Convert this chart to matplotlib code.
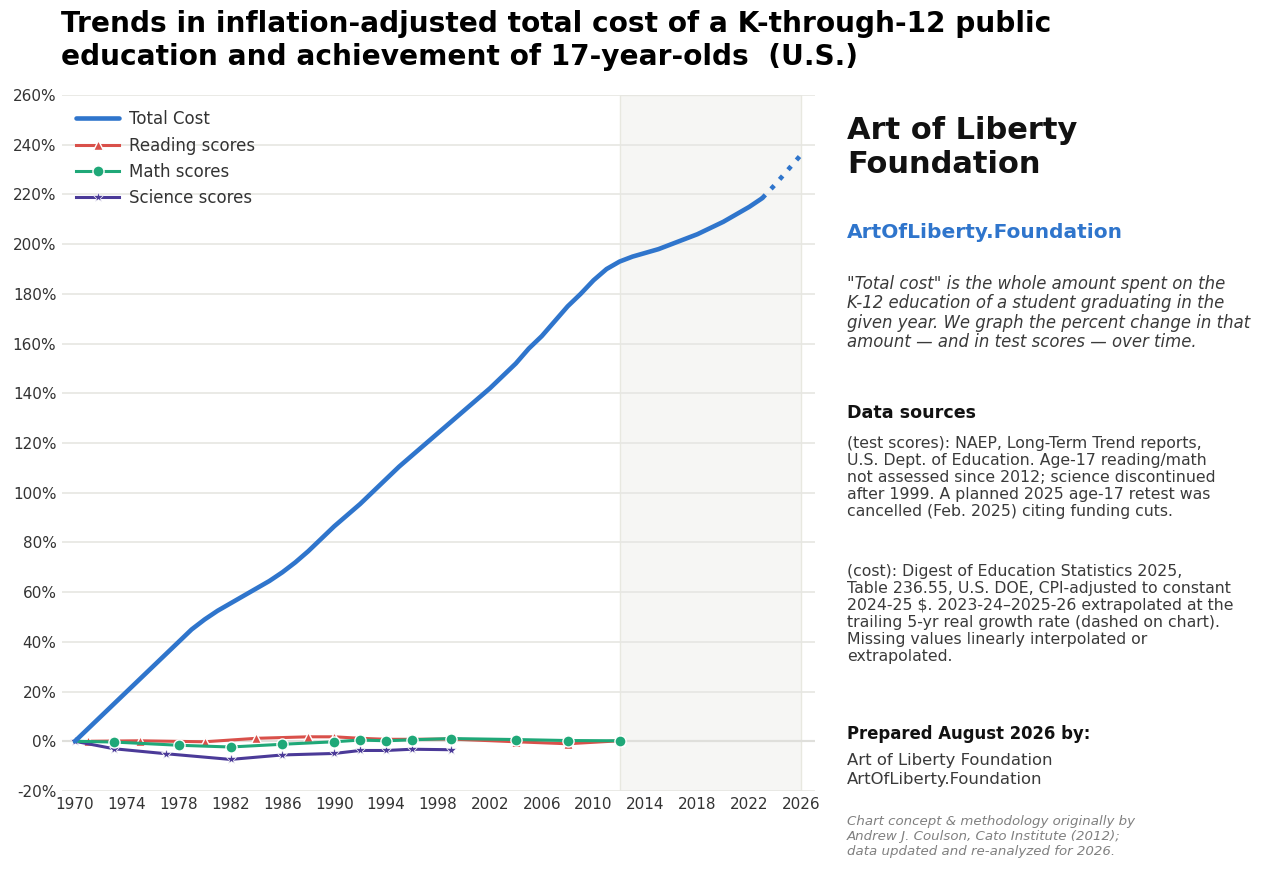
import matplotlib
matplotlib.use("Agg")
import matplotlib.pyplot as plt
from matplotlib.ticker import FuncFormatter

plt.rcParams['font.family'] = ['DejaVu Sans']

# total cost, percent change since 1970 (annual, 2023-2026 extrapolated)
cost_years = list(range(1970, 2024))
cost_pct = [0, 5, 10, 15, 20, 25, 30, 35, 40, 45,
            49, 52.5, 55.5, 58.5, 61.5, 64.5, 68, 72, 76.5, 81.5,
            86.5, 91, 95.5, 100.5, 105.5, 110.5, 115, 119.5, 124, 128.5,
            133, 137.5, 142, 147, 152, 158, 163, 169, 175, 180,
            185.5, 190, 193, 195, 196.5, 198, 200, 202, 204, 206.5,
            209, 212, 215, 218.5]
proj_years = [2023, 2024, 2025, 2026]
proj_pct = [218.5, 224, 230, 236]

read_years = [1971, 1975, 1980, 1984, 1988, 1990, 1992, 1994, 1996, 1999, 2004, 2008, 2012]
read_pct = [0, 0.2, -0.2, 1.2, 1.8, 1.8, 1.2, 0.8, 0.8, 0.9, -0.2, -1.0, 0.2]

math_years = [1970, 1973, 1978, 1982, 1986, 1990, 1992, 1994, 1996, 1999, 2004, 2008, 2012]
math_pct = [0, -0.3, -1.6, -2.3, -1.2, -0.2, 0.5, 0.2, 0.6, 1.1, 0.7, 0.3, 0.2]

sci_years = [1970, 1973, 1977, 1982, 1986, 1990, 1992, 1994, 1996, 1999]
sci_pct = [0, -3.0, -5.0, -7.3, -5.5, -4.9, -3.7, -3.7, -3.2, -3.4]

blue = "#2f75cc"
red = "#d9504a"
green = "#1fa878"
purple = "#4b3a98"

fig = plt.figure(figsize=(12.8, 8.72), dpi=100)
ax = fig.add_axes([0.0484, 0.0929, 0.5886, 0.7981])

ax.axvspan(2012, 2026, color="#f6f6f4", ec="#e8e8e0", lw=1, zorder=0)
ax.set_xlim(1969, 2027.1)
ax.set_ylim(-20, 260)
ax.set_yticks(range(-20, 261, 20))
ax.set_xticks(range(1970, 2027, 4))
ax.yaxis.set_major_formatter(FuncFormatter(lambda v, p: "%d%%" % v))
ax.grid(axis="y", color="#e6e6e2", lw=1.2, zorder=0)
ax.axhline(0, color="#bdbdbd", lw=1.5, zorder=1)
for s in ax.spines.values():
    s.set_visible(False)
ax.tick_params(length=0, labelsize=11, labelcolor="#333333", pad=4)

ax.plot(cost_years, cost_pct, color=blue, lw=3.3, label="Total Cost",
        solid_capstyle="round", zorder=5)
ax.plot(proj_years, proj_pct, color=blue, lw=3.3, ls=(0, (1, 1.8)), zorder=5)
ax.plot(read_years, read_pct, color=red, lw=2.2, marker="^", ms=7,
        mec="white", mew=1, label="Reading scores", zorder=3)
ax.plot(math_years, math_pct, color=green, lw=2.2, marker="o", ms=8,
        mec="white", mew=1, markevery=list(range(1, len(math_years))),
        label="Math scores", zorder=4)
ax.plot(sci_years, sci_pct, color=purple, lw=2.2, marker="*", ms=8,
        mec="white", mew=0.5, label="Science scores", zorder=3)

leg = ax.legend(loc="upper left", frameon=False, fontsize=12, handlelength=2.6,
                handletextpad=0.6, borderaxespad=0.3, labelspacing=0.5,
                bbox_to_anchor=(0.003, 0.995))
for t in leg.get_texts():
    t.set_color("#333333")

fig.text(0.048, 0.988, "Trends in inflation-adjusted total cost of a K-through-12 public\n"
         "education and achievement of 17-year-olds  (U.S.)",
         fontsize=20.2, fontweight="bold", va="top", ha="left", linespacing=1.21)

x0 = 0.6617
fig.text(x0, 0.867, "Art of Liberty\nFoundation", fontsize=22, fontweight="bold",
         va="top", linespacing=1.2, color="#111111")
fig.text(x0, 0.744, "ArtOfLiberty.Foundation", fontsize=14.5, fontweight="bold",
         va="top", color=blue)
fig.text(x0, 0.685, '"Total cost" is the whole amount spent on the\n'
         "K-12 education of a student graduating in the\n"
         "given year. We graph the percent change in that\n"
         "amount \u2014 and in test scores \u2014 over time.",
         fontsize=11.9, style="italic", va="top", color="#3a3a3a", linespacing=1.11)
fig.text(x0, 0.537, "Data sources", fontsize=12.6, fontweight="bold", va="top",
         color="#111111")
fig.text(x0, 0.500, "(test scores): NAEP, Long-Term Trend reports,\n"
         "U.S. Dept. of Education. Age-17 reading/math\n"
         "not assessed since 2012; science discontinued\n"
         "after 1999. A planned 2025 age-17 retest was\n"
         "cancelled (Feb. 2025) citing funding cuts.",
         fontsize=11.3, va="top", color="#3a3a3a", linespacing=1.17)
fig.text(x0, 0.353, "(cost): Digest of Education Statistics 2025,\n"
         "Table 236.55, U.S. DOE, CPI-adjusted to constant\n"
         "2024-25 $. 2023-24\u20132025-26 extrapolated at the\n"
         "trailing 5-yr real growth rate (dashed on chart).\n"
         "Missing values linearly interpolated or\n"
         "extrapolated.",
         fontsize=11.3, va="top", color="#3a3a3a", linespacing=1.17)
fig.text(x0, 0.169, "Prepared August 2026 by:", fontsize=11.9, fontweight="bold",
         va="top", color="#111111")
fig.text(x0, 0.137, "Art of Liberty Foundation\nArtOfLiberty.Foundation",
         fontsize=11.85, va="top", color="#3a3a3a", linespacing=1.37)
fig.text(x0, 0.065, "Chart concept & methodology originally by\n"
         "Andrew J. Coulson, Cato Institute (2012);\n"
         "data updated and re-analyzed for 2026.",
         fontsize=9.6, style="italic", va="top", color="#808080", linespacing=1.2)

fig.savefig("out.png", dpi=100)
